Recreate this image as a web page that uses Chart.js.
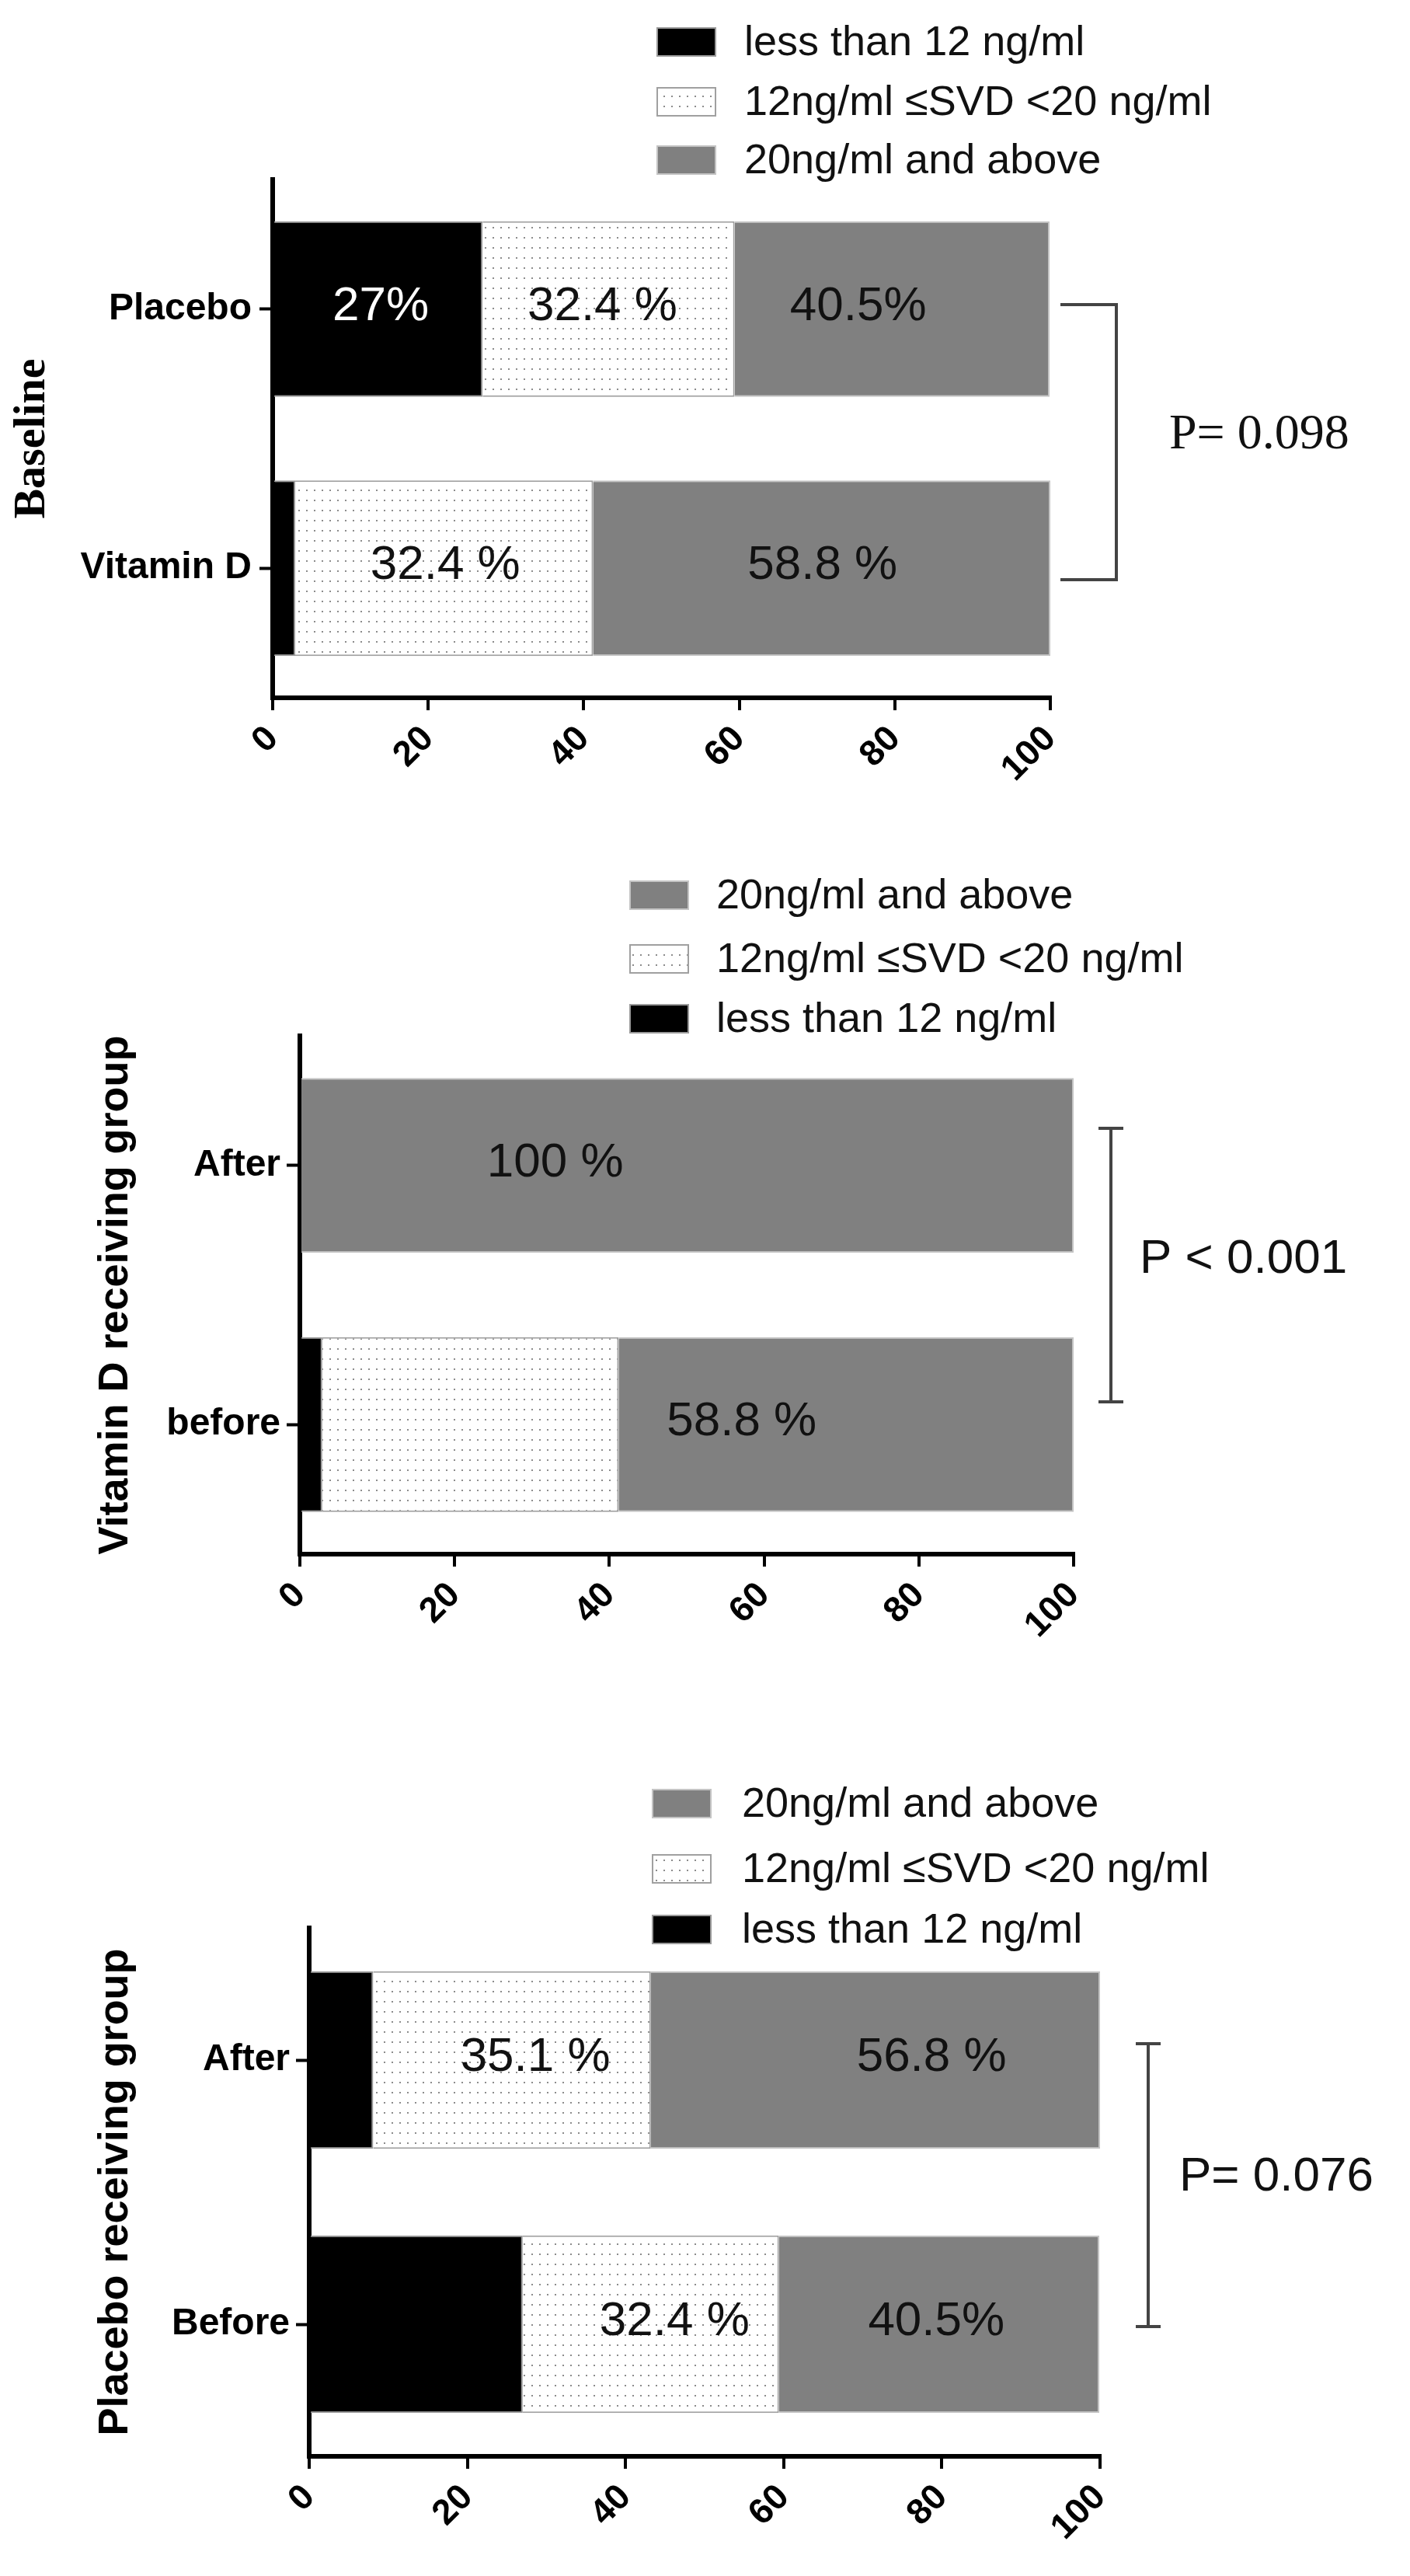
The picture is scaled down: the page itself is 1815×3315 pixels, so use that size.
<!DOCTYPE html>
<html>
<head>
<meta charset="utf-8">
<script src="https://cdn.jsdelivr.net/npm/chart.js@4.4.1/dist/chart.umd.min.js"></script>
<style>
html,body{margin:0;padding:0;background:#fff;}
body{width:1815px;height:3315px;position:relative;overflow:hidden;}
.wrap{position:absolute;left:0;width:1815px;}
canvas{display:block;}
</style>
</head>
<body>
<div class="wrap" style="top:0px;height:1028px"><canvas id="c1" width="1815" height="1028"></canvas></div>
<div class="wrap" style="top:1040px;height:1090px"><canvas id="c2" width="1815" height="1090"></canvas></div>
<div class="wrap" style="top:2140px;height:1151px"><canvas id="c3" width="1815" height="1151"></canvas></div>
<script>
// ---------- data ----------
const levels = ['less than 12 ng/ml', '12ng/ml \u2264SVD <20 ng/ml', '20ng/ml and above'];
const xTicks = [0, 20, 40, 60, 80, 100];

const baselineGroups = ['Placebo', 'Vitamin D'];
const baselineLow  = [27.0, 2.9];
const baselineMid  = [32.4, 38.3];
const baselineHigh = [40.5, 58.8];
const baselineText = [['27%', ''], ['32.4 %', '32.4 %'], ['40.5%', '58.8 %']];
const baselineP = 'P= 0.098';

const vitDGroups = ['After', 'before'];
const vitDLow  = [0, 2.9];
const vitDMid  = [0, 38.3];
const vitDHigh = [100, 58.8];
const vitDText = [['', ''], ['', ''], ['100 %', '58.8 %']];
const vitDP = 'P < 0.001';

const placeboGroups = ['After', 'Before'];
const placeboLow  = [8.1, 27.0];
const placeboMid  = [35.1, 32.4];
const placeboHigh = [56.8, 40.5];
const placeboText = [['', ''], ['35.1 %', '32.4 %'], ['56.8 %', '40.5%']];
const placeboP = 'P= 0.076';

// ---------- styling / placement (not data) ----------
const SANS = '"Liberation Sans", Arial, Helvetica, sans-serif';
const SERIF = '"Liberation Serif", "Times New Roman", serif';

function dotPattern() {
  const c = document.createElement('canvas');
  c.width = 10; c.height = 13;
  const g = c.getContext('2d');
  g.fillStyle = '#ffffff'; g.fillRect(0, 0, 10, 13);
  g.fillStyle = '#8c8c8c'; g.fillRect(4, 6, 2, 2);
  return g.createPattern(c, 'repeat');
}
const PAT = dotPattern();
const segFill = ['#000000', PAT, '#808080'];
const segBorder = ['#9a9a9a', '#a0a0a0', '#c4c4c4'];
const labelColors = ['#ffffff', '#111111', '#111111'];

const annot = {
  id: 'annot',
  afterDatasetsDraw(chart, args, o) {
    const ctx = chart.ctx, xs = chart.scales.x, ys = chart.scales.y;
    ctx.save();
    // value labels inside bars
    ctx.font = '62px ' + SANS;
    ctx.textAlign = 'center';
    ctx.textBaseline = 'middle';
    o.text.forEach((row, di) => row.forEach((t, ci) => {
      if (!t) return;
      ctx.fillStyle = labelColors[di];
      ctx.fillText(t, xs.getPixelForValue(o.at[di][ci]), ys.getPixelForValue(ci) - 3);
    }));
    // legend
    ctx.textAlign = 'left';
    ctx.font = '54px ' + SANS;
    o.legend.order.forEach((di, k) => {
      const ds = chart.data.datasets[di];
      const yc = o.legend.rows[k];
      ctx.fillStyle = ds.backgroundColor;
      ctx.fillRect(o.legend.boxX, yc - 19, 77, 38);
      ctx.strokeStyle = ds.borderColor;
      ctx.lineWidth = 2;
      ctx.strokeRect(o.legend.boxX + 1, yc - 18, 75, 36);
      ctx.fillStyle = '#111';
      ctx.fillText(ds.label, o.legend.textX, yc + 2);
    });
    // bracket
    const b = o.bracket;
    const y1 = ys.getPixelForValue(b.from), y2 = ys.getPixelForValue(b.to);
    ctx.strokeStyle = '#444';
    ctx.lineWidth = 4;
    ctx.beginPath();
    if (b.kind === 'open') {
      ctx.moveTo(b.x0, y1); ctx.lineTo(b.x, y1); ctx.lineTo(b.x, y2); ctx.lineTo(b.x0, y2);
    } else {
      ctx.moveTo(b.x - b.cap, y1); ctx.lineTo(b.x + b.cap, y1);
      ctx.moveTo(b.x, y1); ctx.lineTo(b.x, y2);
      ctx.moveTo(b.x - b.cap, y2); ctx.lineTo(b.x + b.cap, y2);
    }
    ctx.stroke();
    // p value
    ctx.fillStyle = '#111';
    ctx.font = o.p.font;
    ctx.textBaseline = 'alphabetic';
    ctx.fillText(o.p.text, o.p.x, o.p.y);
    ctx.restore();
  }
};

function makeChart(id, groups, low, mid, high, cfg) {
  const series = [low, mid, high];
  return new Chart(document.getElementById(id), {
    type: 'bar',
    data: {
      labels: groups,
      datasets: series.map((d, i) => ({
        label: levels[i],
        data: d,
        backgroundColor: segFill[i],
        borderColor: segBorder[i],
        borderWidth: 2,
        borderSkipped: 'start',
        categoryPercentage: 1,
        barPercentage: cfg.barPct
      }))
    },
    options: {
      indexAxis: 'y',
      responsive: false,
      animation: false,
      events: [],
      layout: { padding: { left: 0, top: cfg.top, right: 1815 - cfg.right, bottom: 0 } },
      plugins: {
        legend: { display: false },
        tooltip: { enabled: false },
        annot: cfg.annot
      },
      scales: {
        x: {
          stacked: true, min: 0, max: 100,
          afterBuildTicks: s => { s.ticks = xTicks.map(v => ({ value: v })); },
          afterFit: s => { s.height = 130; },
          ticks: {
            minRotation: 45, maxRotation: 45, autoSkip: false, padding: 10,
            color: '#000', font: { family: SANS, size: 46, weight: 'bold' }
          },
          grid: { drawOnChartArea: false, drawTicks: true, tickLength: 16, tickWidth: 4, tickColor: '#000', color: '#000', lineWidth: 4 },
          border: { display: true, color: '#000', width: 6 }
        },
        y: {
          stacked: true,
          afterFit: s => { s.width = cfg.left; },
          ticks: { padding: cfg.tickPad, color: '#000', font: { family: SANS, size: 48, weight: 'bold' } },
          grid: { offset: false, drawOnChartArea: false, drawTicks: true, tickLength: 17, tickWidth: 4, tickColor: '#000', color: '#000' },
          border: { display: true, color: '#000', width: 6 },
          title: { display: true, text: cfg.title, color: '#000', font: cfg.titleFont, padding: { top: cfg.titlePad, bottom: 0 } }
        }
      }
    },
    plugins: [annot]
  });
}

makeChart('c1', baselineGroups, baselineLow, baselineMid, baselineHigh, {
  top: 231, left: 351, right: 1352, barPct: 0.678, tickPad: 10,
  title: 'Baseline', titleFont: { family: SERIF, size: 58, weight: 'bold', lineHeight: 1.2 }, titlePad: 7,
  annot: {
    text: baselineText,
    at: [[13.9, null], [42.4, 22.2], [75.3, 70.7]],
    legend: { order: [0, 1, 2], rows: [54, 131, 206], boxX: 845, textX: 958 },
    bracket: { kind: 'open', from: -0.017, to: 1.044, x0: 1365, x: 1437 },
    p: { text: baselineP, font: '64px ' + SERIF, x: 1505, y: 577 }
  }
});

makeChart('c2', vitDGroups, vitDLow, vitDMid, vitDHigh, {
  top: 293, left: 386, right: 1382, barPct: 0.674, tickPad: 8,
  title: 'Vitamin D receiving group', titleFont: { family: SANS, size: 54, weight: 'bold', lineHeight: 1.2 }, titlePad: 117,
  annot: {
    text: vitDText,
    at: [[null, null], [null, null], [33.0, 57.1]],
    legend: { order: [2, 1, 0], rows: [112, 194, 271], boxX: 810, textX: 922 },
    bracket: { kind: 'I', from: -0.143, to: 0.912, x: 1430, cap: 16 },
    p: { text: vitDP, font: '62px ' + SANS, x: 1467, y: 598 }
  }
});

makeChart('c3', placeboGroups, placeboLow, placeboMid, placeboHigh, {
  top: 341, left: 398, right: 1416, barPct: 0.672, tickPad: 8,
  title: 'Placebo receiving group', titleFont: { family: SANS, size: 54, weight: 'bold', lineHeight: 1.2 }, titlePad: 117,
  annot: {
    text: placeboText,
    at: [[null, null], [28.6, 46.2], [78.7, 79.3]],
    legend: { order: [2, 1, 0], rows: [181, 265, 343], boxX: 839, textX: 955 },
    bracket: { kind: 'I', from: -0.062, to: 1.009, x: 1478, cap: 16 },
    p: { text: placeboP, font: '62px ' + SANS, x: 1518, y: 679 }
  }
});
</script>
</body>
</html>
